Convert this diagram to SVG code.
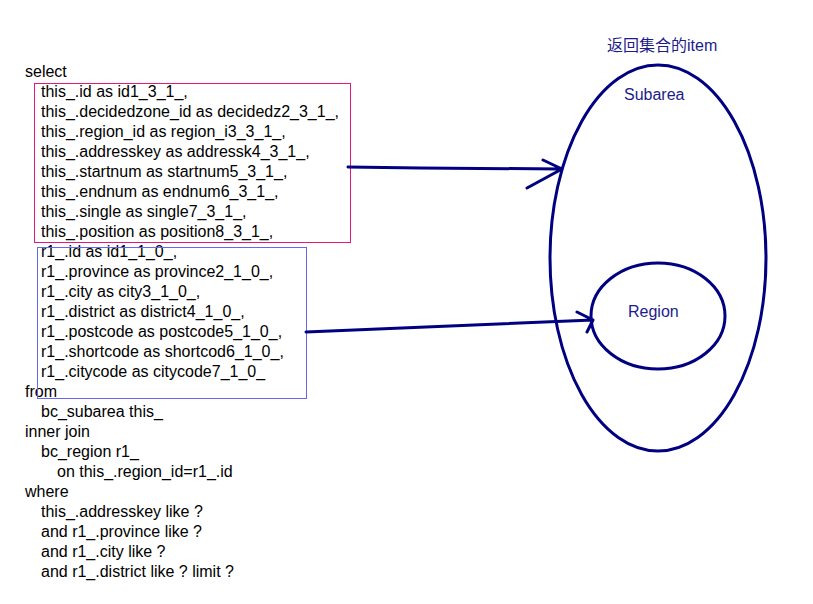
<svg xmlns="http://www.w3.org/2000/svg" width="813" height="604" viewBox="0 0 813 604">
<style>
.t{font-family:"Liberation Sans",Arial,sans-serif;font-size:16px;fill:#000}
.b{font-family:"Liberation Sans",Arial,"Noto Sans CJK SC",sans-serif;font-size:16px;fill:#1c1c8a}
.s{fill:none;stroke:#000080;stroke-width:3;stroke-linecap:round;stroke-linejoin:round}
</style>
<rect width="813" height="604" fill="#fff"/>
<g id="sql">
<text class="t" x="25" y="77">select</text>
<text class="t" x="41" y="97">this_.id as id1_3_1_,</text>
<text class="t" x="41" y="117">this_.decidedzone_id as decidedz2_3_1_,</text>
<text class="t" x="41" y="137">this_.region_id as region_i3_3_1_,</text>
<text class="t" x="41" y="157">this_.addresskey as addressk4_3_1_,</text>
<text class="t" x="41" y="177">this_.startnum as startnum5_3_1_,</text>
<text class="t" x="41" y="197">this_.endnum as endnum6_3_1_,</text>
<text class="t" x="41" y="217">this_.single as single7_3_1_,</text>
<text class="t" x="41" y="237">this_.position as position8_3_1_,</text>
<text class="t" x="41" y="257">r1_.id as id1_1_0_,</text>
<text class="t" x="41" y="277">r1_.province as province2_1_0_,</text>
<text class="t" x="41" y="297">r1_.city as city3_1_0_,</text>
<text class="t" x="41" y="317">r1_.district as district4_1_0_,</text>
<text class="t" x="41" y="337">r1_.postcode as postcode5_1_0_,</text>
<text class="t" x="41" y="357">r1_.shortcode as shortcod6_1_0_,</text>
<text class="t" x="41" y="377">r1_.citycode as citycode7_1_0_</text>
<text class="t" x="25" y="397">from</text>
<text class="t" x="41" y="417">bc_subarea this_</text>
<text class="t" x="25" y="437">inner join</text>
<text class="t" x="41" y="457">bc_region r1_</text>
<text class="t" x="57" y="477">on this_.region_id=r1_.id</text>
<text class="t" x="25" y="497">where</text>
<text class="t" x="41" y="517">this_.addresskey like ?</text>
<text class="t" x="41" y="537">and r1_.province like ?</text>
<text class="t" x="41" y="557">and r1_.city like ?</text>
<text class="t" x="41" y="577">and r1_.district like ? limit ?</text>
</g>
<g id="subarea-box"><rect x="34.5" y="83.5" width="316" height="159" fill="none" stroke="#e8157a" stroke-width="1"/></g>
<g id="region-box"><rect x="37.5" y="247.5" width="269" height="151" fill="none" stroke="#6666ee" stroke-width="1"/></g>
<g id="title"><text class="b" x="607" y="51">返回集合的item</text></g>
<g id="subarea">
<ellipse class="s" cx="658" cy="258" rx="108" ry="193"/>
<text class="b" x="624" y="100">Subarea</text>
</g>
<g id="region">
<ellipse class="s" cx="658" cy="316" rx="67" ry="53"/>
<text class="b" x="628" y="317">Region</text>
</g>
<g id="connectors">
<path class="s" d="M348 167 L420 168 L562 169 M543 160 L562 169 L527 188"/>
<path class="s" d="M306 332 L450 326 L593 320 M577 312 L593 320 L587 332"/>
</g>
</svg>
